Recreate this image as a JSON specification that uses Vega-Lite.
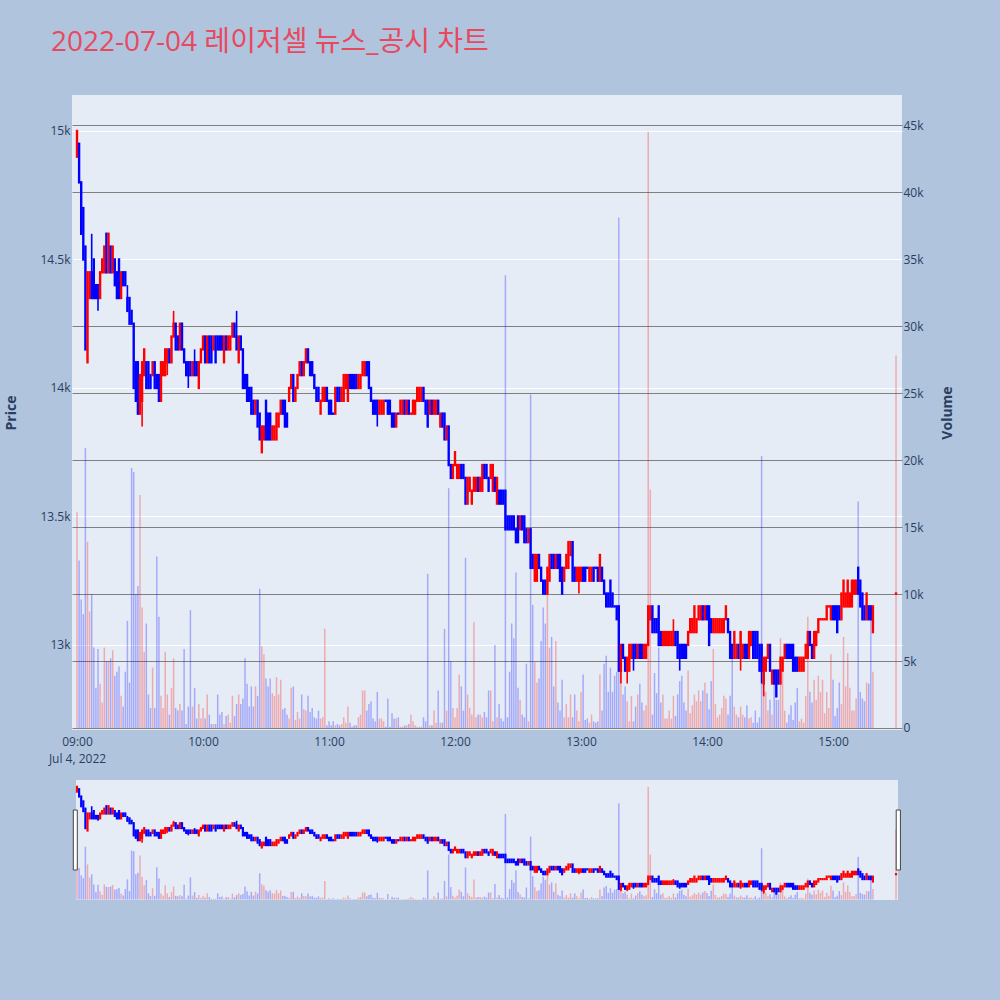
{
  "$schema": "https://vega.github.io/schema/vega-lite/v6.json",
  "width": 830,
  "height": 635,
  "autosize": {"type": "none"},
  "padding": {"left": 72, "top": 95, "right": 98, "bottom": 270},
  "background": "#B0C4DE",
  "title": {"text": "2022-07-04 레이저셀 뉴스_공시 차트", "anchor": "start", "frame": "group", "dx": -21, "offset": 16, "baseline": "alphabetic", "fontSize": 28, "fontWeight": "normal", "color": "#E8495F", "font": "'Open Sans', 'Noto Sans CJK KR', sans-serif"},
  "config": {
    "view": {"fill": "#E5ECF6", "stroke": null},
    "axis": {"domain": false, "ticks": false, "labelFont": "'Open Sans', sans-serif", "labelFontSize": 12, "labelColor": "#2a3f5f", "titleFont": "'Open Sans', sans-serif", "titleColor": "#2a3f5f", "titleFontSize": 14, "titleFontWeight": "bold"}
  },
  "data": {
    "format": {"parse": {"t": "date:'%H:%M'"}},
    "values": [
{"t":"09:00","o":14900,"c":15000,"v":16100},
{"t":"09:01","o":14950,"c":14800,"v":12500},
{"t":"09:02","o":14800,"c":14600,"v":9600},
{"t":"09:03","o":14700,"c":14500,"v":8500},
{"t":"09:04","o":14550,"c":14150,"v":20900},
{"t":"09:05","o":14100,"c":14450,"v":13900},
{"t":"09:06","o":14350,"c":14450,"v":8700},
{"t":"09:07","o":14450,"c":14350,"h":14600,"l":14350,"v":10000},
{"t":"09:08","o":14500,"c":14350,"v":6000},
{"t":"09:09","o":14400,"c":14350,"v":3000},
{"t":"09:10","o":14400,"c":14350,"h":14400,"l":14300,"v":5900},
{"t":"09:11","o":14350,"c":14450,"v":3300},
{"t":"09:12","o":14450,"c":14500,"v":1900},
{"t":"09:13","o":14450,"c":14550,"v":6000},
{"t":"09:14","o":14600,"c":14450,"v":5000},
{"t":"09:15","o":14450,"c":14600,"v":5000},
{"t":"09:16","o":14550,"c":14450,"v":5200},
{"t":"09:17","o":14450,"c":14550,"v":5800},
{"t":"09:18","o":14500,"c":14400,"v":3900},
{"t":"09:19","o":14450,"c":14350,"v":4200},
{"t":"09:20","o":14500,"c":14350,"v":4600},
{"t":"09:21","o":14350,"c":14450,"v":2400},
{"t":"09:22","o":14450,"c":14400,"v":1600},
{"t":"09:23","o":14450,"c":14400,"v":4200},
{"t":"09:24","o":14350,"c":14300,"h":14400,"l":14300,"v":8000},
{"t":"09:25","o":14350,"c":14250,"v":3400},
{"t":"09:26","o":14300,"c":14250,"v":19400},
{"t":"09:27","o":14250,"c":14000,"v":19100},
{"t":"09:28","o":14100,"c":13950,"v":10000},
{"t":"09:29","o":14100,"c":13900,"v":10600},
{"t":"09:30","o":13900,"c":14050,"v":17400},
{"t":"09:31","o":13950,"c":14100,"h":14100,"l":13850,"v":9000},
{"t":"09:32","o":14050,"c":14150,"v":5700},
{"t":"09:33","o":14100,"c":14000,"v":7800},
{"t":"09:34","o":14100,"c":14000,"v":2500},
{"t":"09:35","o":14050,"c":14000,"v":1500},
{"t":"09:36","o":14050,"c":14100,"v":4500},
{"t":"09:37","o":14100,"c":14000,"v":1500},
{"t":"09:38","o":14050,"c":14000,"v":12800},
{"t":"09:39","o":14050,"c":13950,"v":8300},
{"t":"09:40","o":13950,"c":14100,"v":2400},
{"t":"09:41","o":14050,"c":14100,"v":1500},
{"t":"09:42","o":14050,"c":14150,"v":5700},
{"t":"09:43","o":14100,"c":14150,"h":14150,"l":14050,"v":2500},
{"t":"09:44","o":14150,"c":14100,"v":1000},
{"t":"09:45","o":14100,"c":14200,"v":3000},
{"t":"09:46","o":14200,"c":14250,"h":14300,"l":14200,"v":5200},
{"t":"09:47","o":14250,"c":14150,"v":1500},
{"t":"09:48","o":14200,"c":14150,"v":1300},
{"t":"09:49","o":14150,"c":14250,"v":1800},
{"t":"09:50","o":14250,"c":14150,"v":1300},
{"t":"09:51","o":14150,"c":14100,"v":5900},
{"t":"09:52","o":14100,"c":14050,"v":300},
{"t":"09:53","o":14100,"c":14050,"h":14100,"l":14000,"v":1600},
{"t":"09:54","o":14100,"c":14050,"v":8800},
{"t":"09:55","o":14050,"c":14100,"v":1600},
{"t":"09:56","o":14100,"c":14050,"h":14150,"l":14050,"v":3000},
{"t":"09:57","o":14100,"c":14050,"v":700},
{"t":"09:58","o":14000,"c":14100,"v":1800},
{"t":"09:59","o":14100,"c":14150,"v":700},
{"t":"10:00","o":14150,"c":14200,"v":1500},
{"t":"10:01","o":14200,"c":14100,"v":700},
{"t":"10:02","o":14100,"c":14200,"v":2500},
{"t":"10:03","o":14200,"c":14100,"v":1000},
{"t":"10:04","o":14200,"c":14100,"v":300},
{"t":"10:05","o":14150,"c":14200,"v":300},
{"t":"10:06","o":14200,"c":14100,"v":300},
{"t":"10:07","o":14200,"c":14150,"v":2500},
{"t":"10:08","o":14200,"c":14150,"v":1000},
{"t":"10:09","o":14200,"c":14150,"v":1200},
{"t":"10:10","o":14100,"c":14200,"v":300},
{"t":"10:11","o":14200,"c":14150,"v":900},
{"t":"10:12","o":14150,"c":14200,"v":1000},
{"t":"10:13","o":14150,"c":14200,"v":400},
{"t":"10:14","o":14200,"c":14250,"v":2400},
{"t":"10:15","o":14250,"c":14200,"v":900},
{"t":"10:16","o":14200,"c":14150,"h":14300,"l":14150,"v":1800},
{"t":"10:17","o":14100,"c":14200,"v":2500},
{"t":"10:18","o":14200,"c":14150,"v":1800},
{"t":"10:19","o":14150,"c":14000,"v":2200},
{"t":"10:20","o":14050,"c":14000,"v":5200},
{"t":"10:21","o":14050,"c":13950,"v":3300},
{"t":"10:22","o":14000,"c":13950,"v":1600},
{"t":"10:23","o":14000,"c":13900,"v":3100},
{"t":"10:24","o":13950,"c":13900,"v":1600},
{"t":"10:25","o":13900,"c":13950,"v":3100},
{"t":"10:26","o":13950,"c":13850,"v":2400},
{"t":"10:27","o":13900,"c":13800,"v":10400},
{"t":"10:28","o":13750,"c":13850,"v":6100},
{"t":"10:29","o":13800,"c":13850,"v":5500},
{"t":"10:30","o":13950,"c":13800,"v":3700},
{"t":"10:31","o":13900,"c":13800,"v":3100},
{"t":"10:32","o":13900,"c":13800,"v":3700},
{"t":"10:33","o":13800,"c":13850,"v":2600},
{"t":"10:34","o":13800,"c":13850,"v":2400},
{"t":"10:35","o":13800,"c":13900,"v":3800},
{"t":"10:36","o":13850,"c":13900,"v":2500},
{"t":"10:37","o":13900,"c":13950,"v":3600},
{"t":"10:38","o":13950,"c":13900,"v":1400},
{"t":"10:39","o":13950,"c":13850,"v":1500},
{"t":"10:40","o":13900,"c":13850,"v":1000},
{"t":"10:41","o":13950,"c":14000,"v":700},
{"t":"10:42","o":14000,"c":14050,"v":3000},
{"t":"10:43","o":14050,"c":13950,"v":3100},
{"t":"10:44","o":13950,"c":14000,"v":600},
{"t":"10:45","o":14000,"c":14050,"v":1200},
{"t":"10:46","o":14050,"c":14100,"v":700},
{"t":"10:47","o":14100,"c":14050,"v":2500},
{"t":"10:48","o":14050,"c":14100,"v":1400},
{"t":"10:49","o":14100,"c":14150,"v":1300},
{"t":"10:50","o":14150,"c":14100,"v":2400},
{"t":"10:51","o":14100,"c":14050,"v":1200},
{"t":"10:52","o":14100,"c":14050,"v":1500},
{"t":"10:53","o":14050,"c":14000,"v":800},
{"t":"10:54","o":14000,"c":13950,"v":700},
{"t":"10:55","o":14000,"c":13950,"v":1300},
{"t":"10:56","o":13900,"c":13950,"v":700},
{"t":"10:57","o":13950,"c":14000,"v":800},
{"t":"10:58","o":13950,"c":14000,"v":7400},
{"t":"10:59","o":14000,"c":13950,"v":200},
{"t":"11:00","o":13950,"c":13900,"v":500},
{"t":"11:01","o":13950,"c":13900,"v":200},
{"t":"11:02","o":13900,"c":13900,"v":500},
{"t":"11:03","o":13900,"c":14000,"v":200},
{"t":"11:04","o":14000,"c":13950,"v":300},
{"t":"11:05","o":14000,"c":13950,"v":200},
{"t":"11:06","o":13950,"c":14000,"v":300},
{"t":"11:07","o":13950,"c":14050,"v":800},
{"t":"11:08","o":14000,"c":14050,"v":400},
{"t":"11:09","o":13950,"c":14050,"v":1600},
{"t":"11:10","o":14050,"c":14000,"v":400},
{"t":"11:11","o":14050,"c":14000,"v":100},
{"t":"11:12","o":14050,"c":14000,"v":200},
{"t":"11:13","o":14050,"c":14000,"v":200},
{"t":"11:14","o":14000,"c":14050,"v":800},
{"t":"11:15","o":14000,"c":14050,"v":1000},
{"t":"11:16","o":14050,"c":14100,"v":2800},
{"t":"11:17","o":14050,"c":14100,"v":2800},
{"t":"11:18","o":14100,"c":14050,"v":1300},
{"t":"11:19","o":14100,"c":14000,"v":1800},
{"t":"11:20","o":14000,"c":13950,"v":2000},
{"t":"11:21","o":13950,"c":13900,"v":700},
{"t":"11:22","o":13950,"c":13900,"v":500},
{"t":"11:23","o":13950,"c":13900,"h":13950,"l":13850,"v":2700},
{"t":"11:24","o":13900,"c":13950,"v":700},
{"t":"11:25","o":13900,"c":13950,"v":700},
{"t":"11:26","o":13900,"c":13950,"v":500},
{"t":"11:27","o":13950,"c":13950,"v":100},
{"t":"11:28","o":13950,"c":13900,"v":2200},
{"t":"11:29","o":13950,"c":13900,"v":100},
{"t":"11:30","o":13900,"c":13850,"v":1100},
{"t":"11:31","o":13900,"c":13850,"v":700},
{"t":"11:32","o":13850,"c":13900,"v":700},
{"t":"11:33","o":13900,"c":13900,"v":800},
{"t":"11:34","o":13900,"c":13950,"v":100},
{"t":"11:35","o":13900,"c":13950,"v":100},
{"t":"11:36","o":13950,"c":13900,"v":200},
{"t":"11:37","o":13900,"c":13950,"v":200},
{"t":"11:38","o":13950,"c":13900,"v":300},
{"t":"11:39","o":13900,"c":13900,"u":1,"v":1000},
{"t":"11:40","o":13900,"c":13950,"v":500},
{"t":"11:41","o":13900,"c":13950,"v":200},
{"t":"11:42","o":13950,"c":14000,"v":100},
{"t":"11:43","o":13950,"c":14000,"v":100},
{"t":"11:44","o":13950,"c":14000,"v":100},
{"t":"11:45","o":14000,"c":13950,"v":800},
{"t":"11:46","o":13950,"c":13900,"v":500},
{"t":"11:47","o":13950,"c":13850,"v":11500},
{"t":"11:48","o":13900,"c":13950,"v":200},
{"t":"11:49","o":13950,"c":13900,"v":200},
{"t":"11:50","o":13900,"c":13950,"v":1300},
{"t":"11:51","o":13900,"c":13950,"v":400},
{"t":"11:52","o":13950,"c":13900,"v":2800},
{"t":"11:53","o":13850,"c":13900,"v":400},
{"t":"11:54","o":13900,"c":13850,"v":400},
{"t":"11:55","o":13900,"c":13800,"v":7400},
{"t":"11:56","o":13800,"c":13850,"v":1300},
{"t":"11:57","o":13850,"c":13700,"v":17900},
{"t":"11:58","o":13700,"c":13650,"v":5000},
{"t":"11:59","o":13650,"c":13700,"v":1500},
{"t":"12:00","o":13700,"c":13750,"v":800},
{"t":"12:01","o":13650,"c":13700,"v":1500},
{"t":"12:02","o":13650,"c":13700,"v":4000},
{"t":"12:03","o":13700,"c":13650,"v":3100},
{"t":"12:04","o":13700,"c":13650,"v":1300},
{"t":"12:05","o":13650,"c":13550,"v":12700},
{"t":"12:06","o":13550,"c":13650,"v":2500},
{"t":"12:07","o":13600,"c":13650,"v":1500},
{"t":"12:08","o":13550,"c":13600,"v":1000},
{"t":"12:09","o":13600,"c":13650,"v":7900},
{"t":"12:10","o":13600,"c":13650,"v":800},
{"t":"12:11","o":13650,"c":13600,"v":1000},
{"t":"12:12","o":13600,"c":13650,"v":1000},
{"t":"12:13","o":13600,"c":13700,"v":800},
{"t":"12:14","o":13700,"c":13650,"v":1200},
{"t":"12:15","o":13700,"c":13650,"v":800},
{"t":"12:16","o":13650,"c":13600,"v":2800},
{"t":"12:17","o":13650,"c":13700,"v":2800},
{"t":"12:18","o":13600,"c":13700,"v":500},
{"t":"12:19","o":13650,"c":13600,"v":6200},
{"t":"12:20","o":13550,"c":13650,"v":800},
{"t":"12:21","o":13600,"c":13550,"v":1800},
{"t":"12:22","o":13600,"c":13550,"v":700},
{"t":"12:23","o":13600,"c":13550,"v":500},
{"t":"12:24","o":13600,"c":13450,"v":33800},
{"t":"12:25","o":13500,"c":13450,"v":800},
{"t":"12:26","o":13500,"c":13450,"v":4200},
{"t":"12:27","o":13500,"c":13450,"v":7800},
{"t":"12:28","o":13500,"c":13450,"v":6700},
{"t":"12:29","o":13450,"c":13400,"v":11600},
{"t":"12:30","o":13500,"c":13400,"v":3000},
{"t":"12:31","o":13450,"c":13500,"v":2100},
{"t":"12:32","o":13500,"c":13450,"v":1000},
{"t":"12:33","o":13500,"c":13400,"v":800},
{"t":"12:34","o":13450,"c":13400,"v":4800},
{"t":"12:35","o":13400,"c":13450,"v":500},
{"t":"12:36","o":13450,"c":13300,"v":24900},
{"t":"12:37","o":13350,"c":13300,"v":9200},
{"t":"12:38","o":13250,"c":13350,"v":4900},
{"t":"12:39","o":13250,"c":13350,"v":3400},
{"t":"12:40","o":13350,"c":13300,"v":3700},
{"t":"12:41","o":13300,"c":13250,"v":6500},
{"t":"12:42","o":13250,"c":13200,"v":9000},
{"t":"12:43","o":13250,"c":13200,"v":7800},
{"t":"12:44","o":13200,"c":13300,"v":11200},
{"t":"12:45","o":13250,"c":13350,"v":6000},
{"t":"12:46","o":13350,"c":13300,"v":6800},
{"t":"12:47","o":13350,"c":13300,"v":3100},
{"t":"12:48","o":13300,"c":13350,"v":6500},
{"t":"12:49","o":13350,"c":13300,"v":1900},
{"t":"12:50","o":13350,"c":13250,"v":1300},
{"t":"12:51","o":13300,"c":13200,"v":3600},
{"t":"12:52","o":13250,"c":13300,"v":800},
{"t":"12:53","o":13300,"c":13350,"v":1800},
{"t":"12:54","o":13300,"c":13400,"v":800},
{"t":"12:55","o":13350,"c":13400,"v":2500},
{"t":"12:56","o":13400,"c":13250,"v":800},
{"t":"12:57","o":13300,"c":13250,"v":2500},
{"t":"12:58","o":13250,"c":13300,"v":1300},
{"t":"12:59","o":13250,"c":13300,"h":13300,"l":13200,"v":500},
{"t":"13:00","o":13250,"c":13300,"v":2700},
{"t":"13:01","o":13300,"c":13250,"v":4000},
{"t":"13:02","o":13300,"c":13250,"v":600},
{"t":"13:03","o":13300,"c":13300,"v":700},
{"t":"13:04","o":13250,"c":13300,"v":400},
{"t":"13:05","o":13250,"c":13300,"v":1000},
{"t":"13:06","o":13300,"c":13250,"v":500},
{"t":"13:07","o":13300,"c":13300,"v":400},
{"t":"13:08","o":13300,"c":13250,"v":500},
{"t":"13:09","o":13250,"c":13350,"v":4000},
{"t":"13:10","o":13300,"c":13250,"v":1300},
{"t":"13:11","o":13250,"c":13200,"v":4800},
{"t":"13:12","o":13200,"c":13150,"v":5400},
{"t":"13:13","o":13200,"c":13150,"v":2700},
{"t":"13:14","o":13250,"c":13150,"v":4500},
{"t":"13:15","o":13200,"c":13150,"v":2700},
{"t":"13:16","o":13150,"c":13150,"v":3900},
{"t":"13:17","o":13150,"c":13100,"v":4200},
{"t":"13:18","o":13150,"c":12900,"v":38100},
{"t":"13:19","o":12900,"c":13000,"h":13000,"l":12850,"v":4800},
{"t":"13:20","o":13000,"c":12950,"v":2500},
{"t":"13:21","o":12950,"c":12900,"v":3100},
{"t":"13:22","o":12900,"c":12950,"h":12950,"l":12850,"v":2000},
{"t":"13:23","o":12900,"c":13000,"v":500},
{"t":"13:24","o":12950,"c":13000,"v":2400},
{"t":"13:25","o":13000,"c":12950,"h":13000,"l":12900,"v":500},
{"t":"13:26","o":13000,"c":12950,"v":1600},
{"t":"13:27","o":12950,"c":13000,"v":2500},
{"t":"13:28","o":13000,"c":12950,"v":3300},
{"t":"13:29","o":13000,"c":12950,"v":1900},
{"t":"13:30","o":12950,"c":13000,"v":1300},
{"t":"13:31","o":12950,"c":13000,"v":1700},
{"t":"13:32","o":13000,"c":13150,"v":44500},
{"t":"13:33","o":13100,"c":13150,"v":17800},
{"t":"13:34","o":13150,"c":13050,"v":1000},
{"t":"13:35","o":13100,"c":13050,"v":4100},
{"t":"13:36","o":13100,"c":13050,"v":2600},
{"t":"13:37","o":13150,"c":13000,"v":6000},
{"t":"13:38","o":13050,"c":13000,"v":1900},
{"t":"13:39","o":13000,"c":13050,"v":2500},
{"t":"13:40","o":13000,"c":13050,"v":700},
{"t":"13:41","o":13000,"c":13050,"v":700},
{"t":"13:42","o":13000,"c":13050,"v":1300},
{"t":"13:43","o":13000,"c":13050,"v":700},
{"t":"13:44","o":13000,"c":13050,"h":13100,"l":13000,"v":2400},
{"t":"13:45","o":13050,"c":13000,"v":900},
{"t":"13:46","o":13050,"c":12950,"v":2500},
{"t":"13:47","o":13000,"c":12950,"h":13000,"l":12900,"v":3500},
{"t":"13:48","o":13000,"c":12950,"v":3900},
{"t":"13:49","o":13000,"c":12950,"v":1900},
{"t":"13:50","o":13000,"c":12950,"v":1300},
{"t":"13:51","o":13000,"c":13050,"v":4300},
{"t":"13:52","o":13050,"c":13100,"v":1100},
{"t":"13:53","o":13050,"c":13100,"v":1700},
{"t":"13:54","o":13050,"c":13150,"v":2500},
{"t":"13:55","o":13050,"c":13100,"v":2000},
{"t":"13:56","o":13100,"c":13150,"v":2800},
{"t":"13:57","o":13100,"c":13150,"v":2000},
{"t":"13:58","o":13150,"c":13100,"v":2800},
{"t":"13:59","o":13100,"c":13150,"v":3400},
{"t":"14:00","o":13150,"c":13100,"v":2600},
{"t":"14:01","o":13150,"c":13000,"v":1400},
{"t":"14:02","o":13100,"c":13050,"v":3500},
{"t":"14:03","o":13050,"c":13100,"v":5900},
{"t":"14:04","o":13050,"c":13100,"v":1800},
{"t":"14:05","o":13050,"c":13100,"v":800},
{"t":"14:06","o":13050,"c":13100,"v":1000},
{"t":"14:07","o":13050,"c":13100,"v":1500},
{"t":"14:08","o":13050,"c":13100,"v":2400},
{"t":"14:09","o":13100,"c":13150,"v":2200},
{"t":"14:10","o":13100,"c":13050,"v":1000},
{"t":"14:11","o":13050,"c":12950,"v":2400},
{"t":"14:12","o":13000,"c":12950,"v":5800},
{"t":"14:13","o":12950,"c":13050,"v":1600},
{"t":"14:14","o":12950,"c":13000,"v":1000},
{"t":"14:15","o":13000,"c":12950,"v":800},
{"t":"14:16","o":12950,"c":13050,"h":13050,"l":12900,"v":1600},
{"t":"14:17","o":12950,"c":13000,"v":1000},
{"t":"14:18","o":13000,"c":12950,"v":800},
{"t":"14:19","o":13000,"c":12950,"v":1700},
{"t":"14:20","o":12950,"c":13050,"v":700},
{"t":"14:21","o":13000,"c":13050,"v":800},
{"t":"14:22","o":13050,"c":12950,"v":400},
{"t":"14:23","o":13050,"c":12950,"v":1300},
{"t":"14:24","o":13050,"c":12950,"v":400},
{"t":"14:25","o":13000,"c":12900,"v":800},
{"t":"14:26","o":13000,"c":12900,"h":13000,"l":12850,"v":20300},
{"t":"14:27","o":12850,"c":12950,"h":12950,"l":12800,"v":2700},
{"t":"14:28","o":12900,"c":12950,"v":2700},
{"t":"14:29","o":12950,"c":13000,"v":1300},
{"t":"14:30","o":13000,"c":12900,"v":2100},
{"t":"14:31","o":12850,"c":12900,"v":1000},
{"t":"14:32","o":12900,"c":12850,"v":3400},
{"t":"14:33","o":12900,"c":12800,"v":2100},
{"t":"14:34","o":12900,"c":12850,"v":2100},
{"t":"14:35","o":12850,"c":12950,"v":6700},
{"t":"14:36","o":12900,"c":12950,"v":4800},
{"t":"14:37","o":12950,"c":13000,"v":1300},
{"t":"14:38","o":13000,"c":12950,"v":400},
{"t":"14:39","o":13000,"c":12950,"v":1000},
{"t":"14:40","o":13000,"c":12950,"v":1700},
{"t":"14:41","o":13000,"c":12900,"v":600},
{"t":"14:42","o":12950,"c":12900,"v":1900},
{"t":"14:43","o":12950,"c":12900,"v":3000},
{"t":"14:44","o":12900,"c":12950,"v":500},
{"t":"14:45","o":12900,"c":12950,"v":700},
{"t":"14:46","o":12900,"c":12950,"v":400},
{"t":"14:47","o":12950,"c":13000,"v":2400},
{"t":"14:48","o":12950,"c":13050,"v":8300},
{"t":"14:49","o":13050,"c":13000,"v":2700},
{"t":"14:50","o":13000,"c":12950,"v":1900},
{"t":"14:51","o":12950,"c":13050,"v":3600},
{"t":"14:52","o":13000,"c":13050,"v":2100},
{"t":"14:53","o":13050,"c":13100,"v":3900},
{"t":"14:54","o":13100,"c":13100,"u":1,"v":2700},
{"t":"14:55","o":13100,"c":13100,"u":1,"v":3600},
{"t":"14:56","o":13100,"c":13100,"u":1,"v":1100},
{"t":"14:57","o":13100,"c":13150,"v":2700},
{"t":"14:58","o":13150,"c":13150,"u":1,"v":1500},
{"t":"14:59","o":13100,"c":13150,"v":5500},
{"t":"15:00","o":13150,"c":13100,"v":3600},
{"t":"15:01","o":13150,"c":13100,"v":900},
{"t":"15:02","o":13150,"c":13050,"v":1500},
{"t":"15:03","o":13150,"c":13100,"v":3400},
{"t":"15:04","o":13100,"c":13200,"v":1800},
{"t":"15:05","o":13150,"c":13250,"v":6800},
{"t":"15:06","o":13150,"c":13200,"v":3100},
{"t":"15:07","o":13150,"c":13250,"v":5600},
{"t":"15:08","o":13150,"c":13200,"v":3000},
{"t":"15:09","o":13150,"c":13250,"v":1300},
{"t":"15:10","o":13200,"c":13250,"v":1300},
{"t":"15:11","o":13200,"c":13250,"v":2200},
{"t":"15:12","o":13300,"c":13200,"v":16900},
{"t":"15:13","o":13250,"c":13150,"v":2700},
{"t":"15:14","o":13200,"c":13100,"v":2200},
{"t":"15:15","o":13150,"c":13100,"v":2000},
{"t":"15:16","o":13100,"c":13200,"v":3400},
{"t":"15:17","o":13150,"c":13100,"v":3300},
{"t":"15:18","o":13150,"c":13100,"v":9000},
{"t":"15:19","o":13050,"c":13150,"v":4200},
{"t":"15:30","o":13200,"c":13200,"u":1,"v":27800}
    ]
  },
  "encoding": {
    "x": {
      "field": "t", "type": "temporal",
      "scale": {"domain": [{"year": 1900, "month": 1, "date": 1, "hours": 8, "minutes": 57, "seconds": 37}, {"year": 1900, "month": 1, "date": 1, "hours": 15, "minutes": 32, "seconds": 51}]},
      "axis": {"title": "Jul 4, 2022", "titleFontWeight": "normal", "titleFontSize": 12, "titleX": 5, "titleY": 32, "titleAlign": "center", "titleBaseline": "alphabetic", "grid": false, "format": "%H:%M", "tickCount": 8, "labelPadding": 6, "labelFlush": false, "labelOverlap": false}
    }
  },
  "layer": [
    {
      "mark": {"type": "rule", "strokeWidth": 1.5, "opacity": 0.28},
      "encoding": {
        "y": {"field": "v", "type": "quantitative", "scale": {"domain": [-150, 47250], "range": [635, 0], "nice": false, "zero": false},
          "axis": {"orient": "right", "title": "Volume", "values": [0, 5000, 10000, 15000, 20000, 25000, 30000, 35000, 40000, 45000], "labelExpr": "datum.value == 0 ? '0' : format(datum.value / 1000, 'd') + 'k'", "grid": true, "gridColor": "#808080", "gridWidth": 1, "labelPadding": 1, "titleAngle": 270, "titleX": 49, "titleY": 317.5, "titleBaseline": "alphabetic"}},
        "y2": {"datum": 0},
        "color": {"condition": {"test": "datum.c > datum.o || datum.u == 1", "value": "red"}, "value": "blue"}
      }
    },
    {
      "layer": [
        {
          "transform": [{"filter": "isValid(datum.h)"}],
          "mark": {"type": "rule", "strokeWidth": 1.6},
          "encoding": {
            "y": {"field": "l", "type": "quantitative", "scale": {"domain": [12669, 15140], "range": [635, 0], "nice": false, "zero": false}},
            "y2": {"field": "h"},
            "color": {"condition": {"test": "datum.c > datum.o || datum.u == 1", "value": "red"}, "value": "blue"}
          }
        },
        {
          "mark": {"type": "rule", "strokeWidth": 2.4, "strokeCap": "square"},
          "encoding": {
            "y": {"field": "o", "type": "quantitative", "scale": {"domain": [12669, 15140], "range": [635, 0], "nice": false, "zero": false},
              "axis": {"orient": "left", "title": "Price", "values": [13000, 13500, 14000, 14500, 15000], "labelExpr": "format(datum.value / 1000, '~g') + 'k'", "grid": true, "gridColor": "white", "gridWidth": 1, "labelPadding": 2, "titleAngle": 270, "titleX": -57, "titleY": 317.5, "titleBaseline": "alphabetic"}},
            "y2": {"field": "c"},
            "color": {"condition": {"test": "datum.c > datum.o || datum.u == 1", "value": "red"}, "value": "blue"}
          }
        }
      ]
    },
    {
      "layer": [
        {
          "mark": {"type": "rect", "color": "#E5ECF6", "xOffset": -1, "x2Offset": 2},
          "encoding": {
            "x": {"aggregate": "min", "field": "t", "type": "temporal"},
            "x2": {"aggregate": "max", "field": "t"},
            "y": {"datum": -150, "type": "quantitative", "scale": {"domain": [-150, 47250], "range": [805, 685], "nice": false, "zero": false}, "axis": null},
            "y2": {"datum": 47250}
          }
        },
        {
          "mark": {"type": "rule", "strokeWidth": 1.5, "opacity": 0.28},
          "encoding": {
            "y": {"field": "v", "type": "quantitative", "scale": {"domain": [-150, 47250], "range": [805, 685], "nice": false, "zero": false}, "axis": null},
            "y2": {"datum": 0},
            "color": {"condition": {"test": "datum.c > datum.o || datum.u == 1", "value": "red"}, "value": "blue"}
          }
        }
      ]
    },
    {
      "layer": [
        {
          "transform": [{"filter": "isValid(datum.h)"}],
          "mark": {"type": "rule", "strokeWidth": 1.6},
          "encoding": {
            "y": {"field": "l", "type": "quantitative", "scale": {"domain": [12669, 15140], "range": [805, 685], "nice": false, "zero": false}, "axis": null},
            "y2": {"field": "h"},
            "color": {"condition": {"test": "datum.c > datum.o || datum.u == 1", "value": "red"}, "value": "blue"}
          }
        },
        {
          "mark": {"type": "rule", "strokeWidth": 2.2, "strokeCap": "square"},
          "encoding": {
            "y": {"field": "o", "type": "quantitative", "scale": {"domain": [12669, 15140], "range": [805, 685], "nice": false, "zero": false}, "axis": null},
            "y2": {"field": "c"},
            "color": {"condition": {"test": "datum.c > datum.o || datum.u == 1", "value": "red"}, "value": "blue"}
          }
        },
        {
          "mark": {"type": "rect", "fill": "white", "stroke": "#444444", "strokeWidth": 1, "xOffset": -3.7, "x2Offset": 0.3},
          "encoding": {
            "x": {"aggregate": "min", "field": "t", "type": "temporal"},
            "x2": {"aggregate": "min", "field": "t"},
            "y": {"datum": 13287, "type": "quantitative", "scale": {"domain": [12669, 15140], "range": [805, 685], "nice": false, "zero": false}, "axis": null},
            "y2": {"datum": 14522}
          }
        },
        {
          "mark": {"type": "rect", "fill": "white", "stroke": "#444444", "strokeWidth": 1, "xOffset": 0.2, "x2Offset": 4.4},
          "encoding": {
            "x": {"aggregate": "max", "field": "t", "type": "temporal"},
            "x2": {"aggregate": "max", "field": "t"},
            "y": {"datum": 13287, "type": "quantitative", "scale": {"domain": [12669, 15140], "range": [805, 685], "nice": false, "zero": false}, "axis": null},
            "y2": {"datum": 14522}
          }
        }
      ]
    }
  ],
  "resolve": {"scale": {"y": "independent"}, "axis": {"y": "independent"}}
}
